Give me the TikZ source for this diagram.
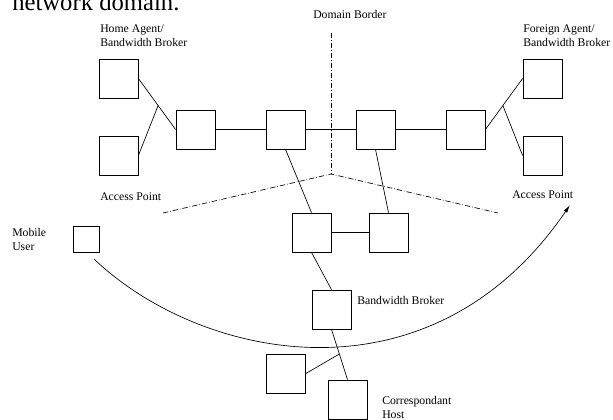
\documentclass[tikz,border=0pt]{standalone}
\usepackage{fontspec}
\setmainfont{Liberation Serif}
\usepackage{tikz}
\usetikzlibrary{arrows.meta,calc}

\begin{document}
\begin{tikzpicture}[x=0.75pt,y=-0.75pt,
    router/.style={draw,line width=0.6pt,minimum size=29.25pt,inner sep=0pt},
    mubox/.style={draw,line width=0.6pt,minimum size=19.5pt,inner sep=0pt},
    lbl/.style={anchor=north west,inner sep=0pt,align=left,font=\fontsize{8.8}{10.5}\selectfont},
    link/.style={line width=0.5pt},
    dborder/.style={line width=0.5pt,dash pattern=on 4pt off 1.5pt on 0.5pt off 1.5pt}]
    \clip (0,0) rectangle (613,419);
    \node[anchor=base west,inner sep=0pt,font=\fontsize{18.5}{22}\selectfont] (caption) at (12,10) {network domain.};
    % home side
    \node[router] (ha1) at (118.5,78.5) {};
    \node[router] (ha2) at (118.5,155.5) {};
    \node[router] (r1) at (195.5,129.5) {};
    \node[router] (r2) at (285.5,129.5) {};
    % foreign side
    \node[router] (r3) at (375.5,129.5) {};
    \node[router] (r4) at (465.5,129.5) {};
    \node[router] (fa1) at (542.5,78.5) {};
    \node[router] (fa2) at (542.5,155.5) {};
    % lower part
    \node[router] (r5) at (311.5,232.5) {};
    \node[router] (r6) at (388.5,232.5) {};
    \node[router] (bb) at (331.5,309.5) {};
    \node[router] (lb) at (286,373.5) {};
    \node[router] (ch) at (347.5,399.5) {};
    \node[mubox] (mu) at (86,239) {};
    % labels
    \node[lbl] (dblabel) at (313,10) {Domain Border};
    \node[lbl] (halabel) at (100,24) {Home Agent/\\Bandwidth Broker};
    \node[lbl] (falabel) at (523,24) {Foreign Agent/\\Bandwidth Broker};
    \node[lbl] (aplabel) at (100,192) {Access Point};
    \node[lbl] (aprlabel) at (512,190) {Access Point};
    \node[lbl] (mulabel) at (12,228) {Mobile\\User};
    \node[lbl] (bblabel) at (357,296) {Bandwidth Broker};
    \node[lbl] (chlabel) at (382,396) {Correspondant\\Host};
    % links
    \coordinate (hajoin) at ($(ha1.east)!0.53!(r1.west)$);
    \coordinate (fajoin) at ($(r4.east)!0.47!(fa1.west)$);
    \coordinate (chjoin) at ($(bb.south)!0.49!(ch.north)$);
    \draw[link] (ha1.east) -- (r1.west);
    \draw[link] (ha2.east) -- (hajoin);
    \draw[link] (r1) -- (r2) -- (r3) -- (r4);
    \draw[link] (r4.east) -- (fa1.west);
    \draw[link] (fa2.west) -- (fajoin);
    \draw[link] (r2.south) -- (r5.north);
    \draw[link] (r3.south) -- (r6.north);
    \draw[link] (r5) -- (r6);
    \draw[link] (r5.south) -- (bb.north);
    \draw[link] (bb.south) -- (ch.north);
    \draw[link] (lb.east) -- (chjoin);
    % domain border
    \coordinate (dbtop) at (331,33);
    \coordinate (dbmid) at (331,174);
    \coordinate (dbleft) at (163,213);
    \coordinate (dbright) at (498,213);
    \draw[dborder] (dbtop) -- (dbmid);
    \draw[dborder] (dbleft) -- (dbmid) -- (dbright);
    % movement of the mobile user
    \coordinate (mustart) at (94,259);
    \coordinate (mutip) at (570,205);
    \draw[link,-{Latex[length=6pt,width=3pt]}] (mustart) .. controls (200,360) and (430,410) .. (mutip);
\end{tikzpicture}
\end{document}
